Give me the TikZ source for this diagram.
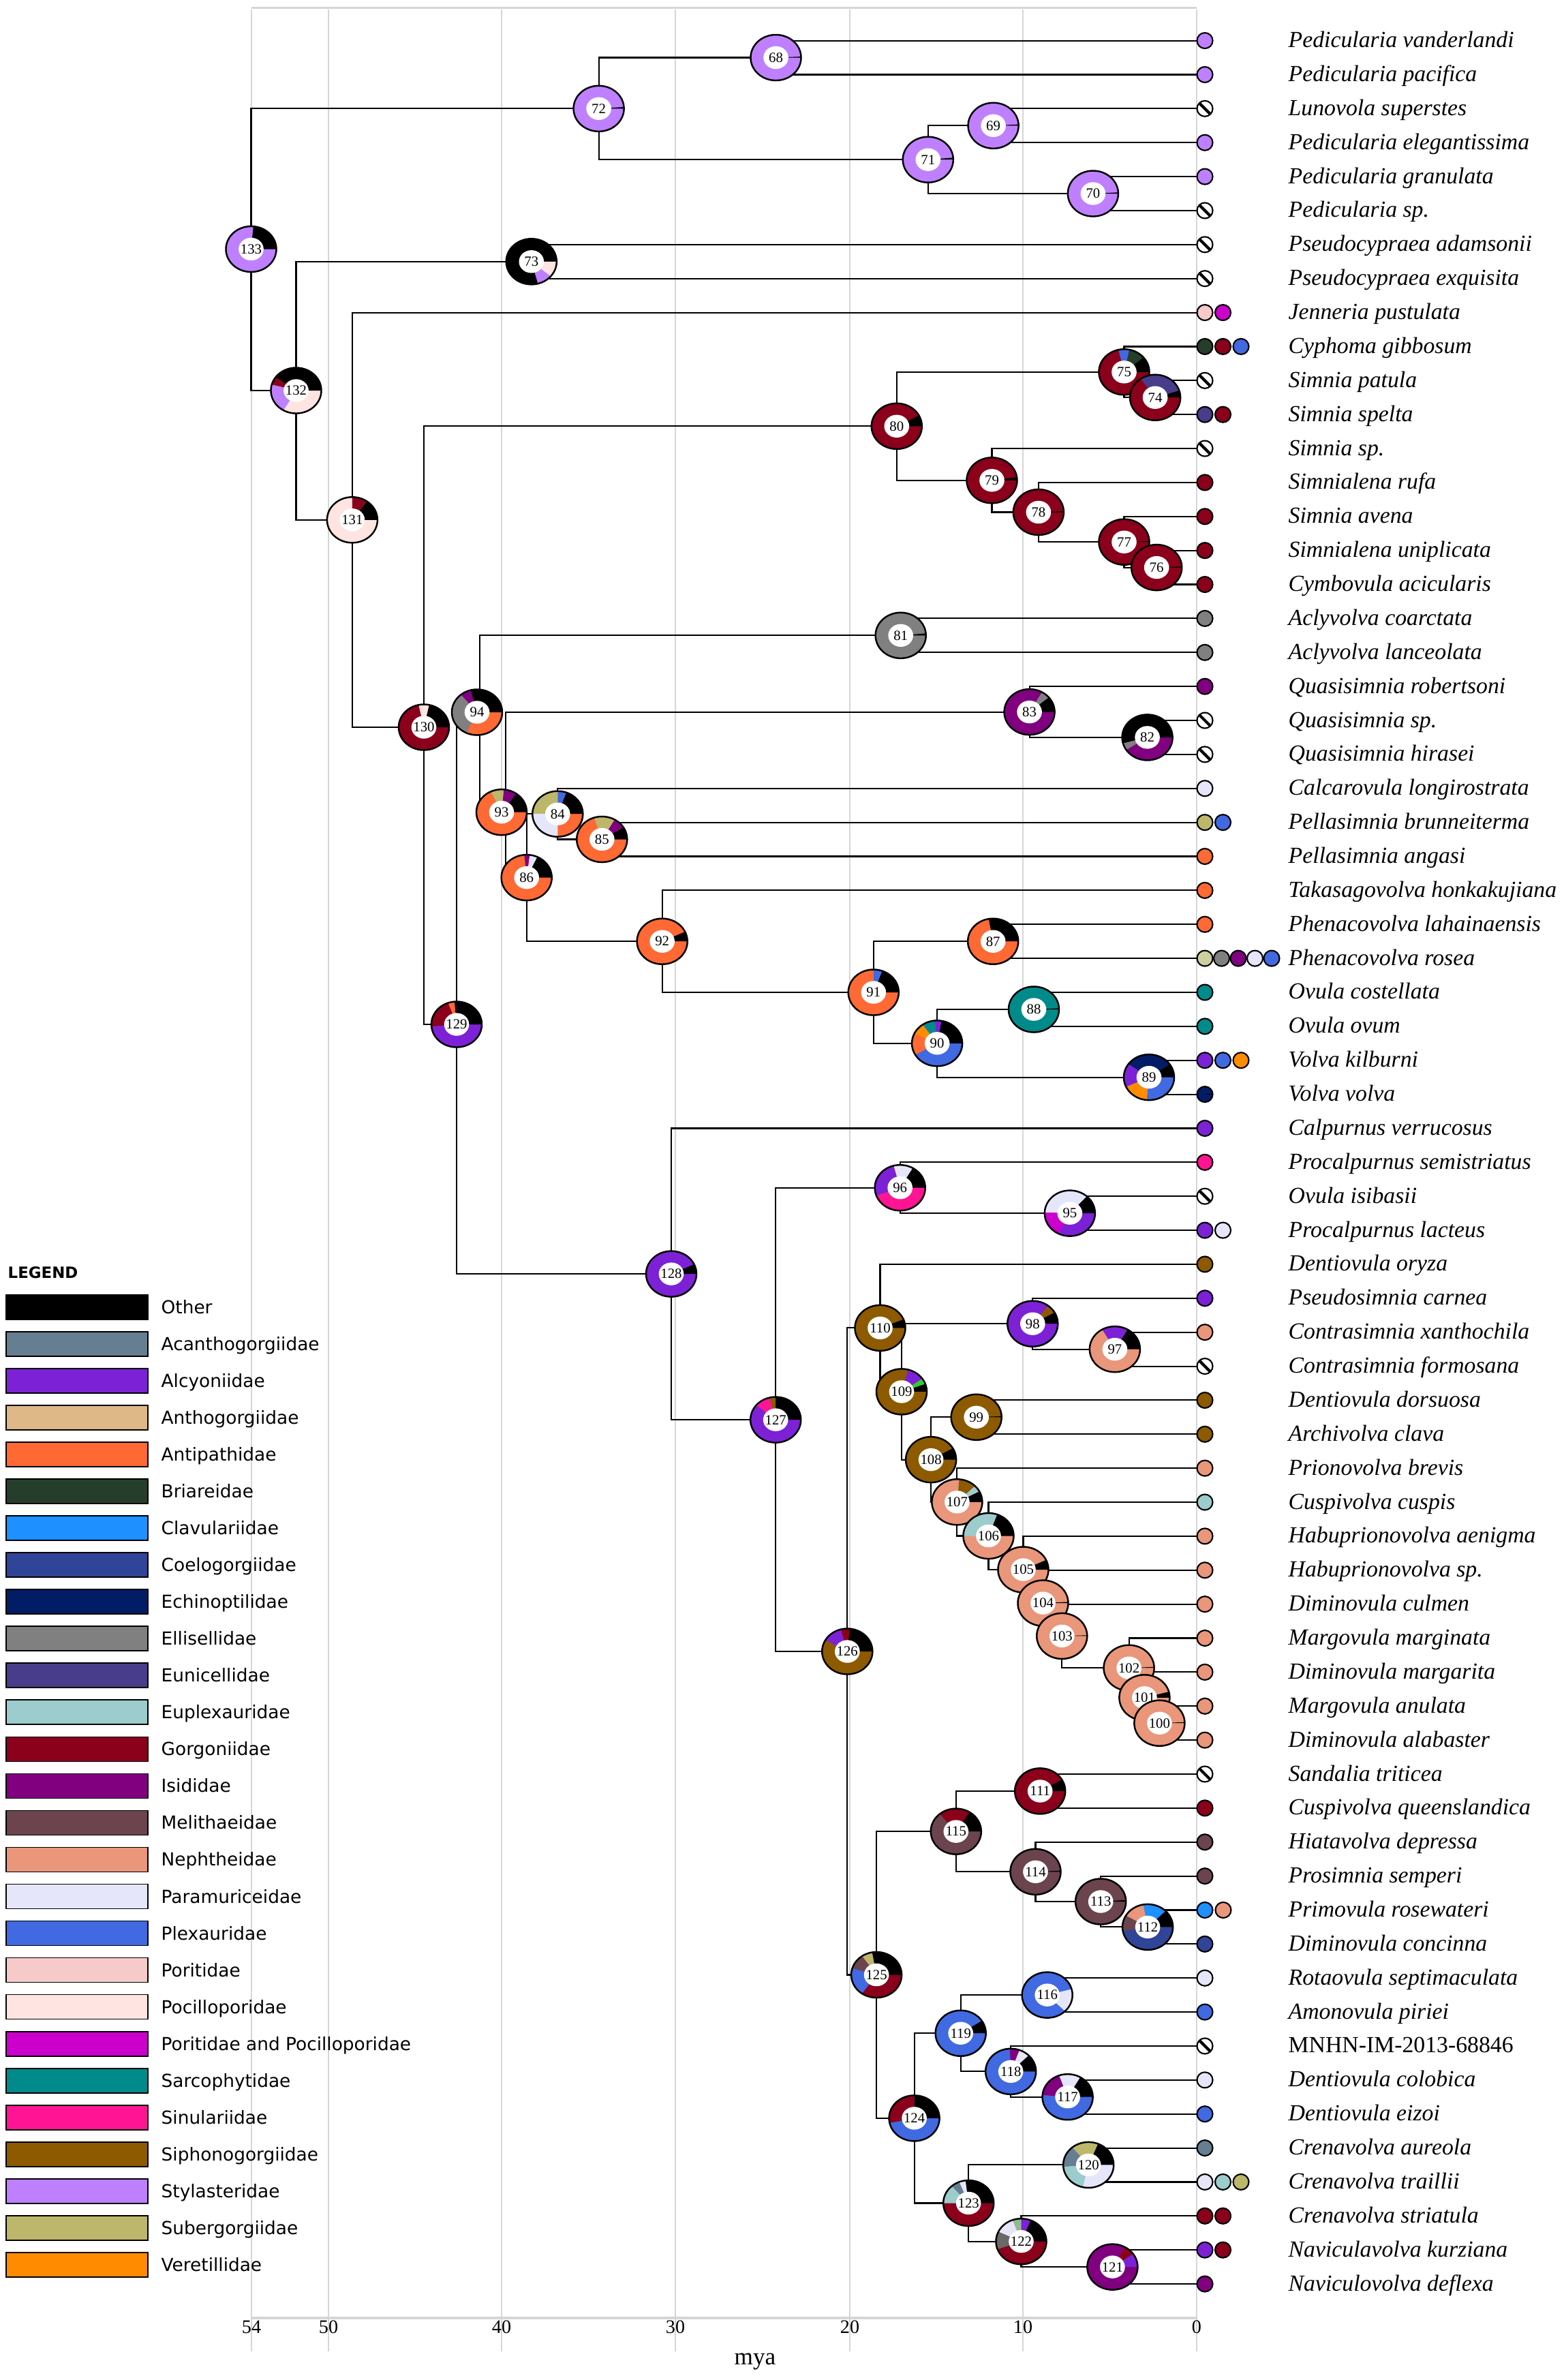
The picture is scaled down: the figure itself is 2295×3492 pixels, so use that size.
\documentclass[tikz,border=0pt]{standalone}
\usepackage{fontspec}
\setmainfont{Liberation Serif}
\newfontfamily\legfont{DejaVu Sans}
\usetikzlibrary{calc}

\definecolor{oth}{RGB}{0,0,0}
\definecolor{acan}{RGB}{102,126,146}
\definecolor{alcy}{RGB}{125,33,214}
\definecolor{anth}{RGB}{222,184,135}
\definecolor{anti}{RGB}{255,105,52}
\definecolor{bria}{RGB}{37,62,43}
\definecolor{clav}{RGB}{30,144,255}
\definecolor{coel}{RGB}{48,68,152}
\definecolor{echi}{RGB}{2,28,102}
\definecolor{elli}{RGB}{128,128,128}
\definecolor{euni}{RGB}{72,61,139}
\definecolor{eupl}{RGB}{156,204,204}
\definecolor{gorg}{RGB}{139,0,26}
\definecolor{isid}{RGB}{128,0,128}
\definecolor{meli}{RGB}{107,68,78}
\definecolor{neph}{RGB}{233,150,122}
\definecolor{para}{RGB}{230,230,250}
\definecolor{plex}{RGB}{65,105,225}
\definecolor{pori}{RGB}{247,202,202}
\definecolor{poci}{RGB}{255,228,225}
\definecolor{popo}{RGB}{204,0,204}
\definecolor{sarc}{RGB}{0,139,139}
\definecolor{sinu}{RGB}{255,20,147}
\definecolor{siph}{RGB}{141,90,0}
\definecolor{styl}{RGB}{191,128,255}
\definecolor{suber}{RGB}{189,183,107}
\definecolor{vere}{RGB}{255,140,0}
\definecolor{limeg}{RGB}{50,205,50}
\definecolor{dsgreen}{RGB}{143,188,143}
\definecolor{dgrey}{RGB}{105,105,105}
\definecolor{pkhaki}{RGB}{207,206,158}
\definecolor{gridc}{RGB}{214,214,214}

\newcommand\donut[3]{%
  \begin{scope}[shift={(n#1)}]
    \fill[#2] (0,0) ellipse[x radius=0.37cm, y radius=0.335cm];
    \gdef\dstart{0}%
    \foreach \cc/\ss in {#3}{%
      \pgfmathsetmacro\dend{\dstart+\ss}%
      \path[fill=\cc] (0,0) -- (\dstart:0.37cm and 0.335cm) arc[start angle=\dstart, end angle=\dend, x radius=0.37cm, y radius=0.335cm] -- cycle;
      \global\let\dstart\dend
    }%
    \fill[white] (0,0) ellipse[x radius=0.183cm, y radius=0.167cm];
    \draw[line width=0.7pt] (0,0) ellipse[x radius=0.37cm, y radius=0.335cm];
    \node[numlab] (d#1) at (0,0) {#1};
  \end{scope}}
\newcommand\tipc[3]{\filldraw[fill=#3, draw=black, line width=0.6pt] ($(t#1)+(#2,0)$) circle[radius=0.115cm];}
\newcommand\tiph[1]{\filldraw[fill=white, draw=black, line width=0.6pt] ($(t#1)+(12,0)$) circle[radius=0.115cm];
  \draw[line width=1.2pt] ($(t#1)+(12,0)+(135:0.105cm)$) -- ($(t#1)+(12,0)+(-45:0.105cm)$);}

\begin{document}
\begin{tikzpicture}[x=0.01cm, y=-0.01cm,
  branch/.style={line width=0.6pt, black},
  gridln/.style={line width=0.75pt, gridc},
  tiplab/.style={anchor=base west, inner sep=0pt, font=\fontsize{9.6}{11.5}\selectfont\itshape},
  tiplabup/.style={anchor=base west, inner sep=0pt, font=\fontsize{9.6}{11.5}\selectfont},
  numlab/.style={inner sep=0pt, font=\fontsize{5.9}{6}\selectfont},
  ticklab/.style={inner sep=0pt, font=\fontsize{8}{9}\selectfont},
  leglab/.style={anchor=base west, inner sep=0pt, font=\legfont\fontsize{7.5}{9}\selectfont},
  swatch/.style={draw=black, line width=0.5pt}]

\fill[white] (0,0) rectangle (2295,3492);
\useasboundingbox (0,0) rectangle (2295,3492);

% grid and axis
\draw[gridln] (369,11.5) -- (1756,11.5);
\foreach \v/\xx in {54/369, 50/482, 40/736, 30/991, 20/1247, 10/1501, 0/1756}{
  \draw[gridln] (\xx,14) -- (\xx,3450);
  \node[ticklab] (tk\v) at (\xx,3414) {\v};
}
\draw[gridc, line width=0.9pt] (369,3401) -- (1756,3401);
\node[inner sep=0pt, font=\fontsize{10}{12}\selectfont] (mya) at (1108,3465) {mya};

% tip coordinates
\foreach \i in {0,...,66}{ \coordinate (t\i) at (1756,{59.6+49.87*\i}); }

% internal node coordinates
\coordinate (n68) at (1138.5,84.5);
\coordinate (n69) at (1457.6,184.3);
\coordinate (n70) at (1603.9,284.0);
\coordinate (n71) at (1361.8,234.2);
\coordinate (n72) at (878.6,159.3);
\coordinate (n73) at (779.8,383.8);
\coordinate (n74) at (1695.1,583.2);
\coordinate (n75) at (1649.5,545.8);
\coordinate (n76) at (1697.2,832.6);
\coordinate (n77) at (1649.5,795.2);
\coordinate (n78) at (1523.9,751.5);
\coordinate (n79) at (1455.5,704.8);
\coordinate (n80) at (1315.8,625.3);
\coordinate (n81) at (1321.7,932.3);
\coordinate (n82) at (1683.6,1081.9);
\coordinate (n83) at (1510.6,1044.6);
\coordinate (n84) at (818.3,1194.2);
\coordinate (n85) at (883.3,1231.5);
\coordinate (n86) at (772.7,1287.6);
\coordinate (n87) at (1457.2,1381.2);
\coordinate (n88) at (1517,1481.0);
\coordinate (n89) at (1686,1580.6);
\coordinate (n90) at (1375.1,1530.8);
\coordinate (n91) at (1281.8,1456.0);
\coordinate (n92) at (971.7,1381.2);
\coordinate (n93) at (736,1191.7);
\coordinate (l93) at (741.7,1191.7);
\coordinate (n94) at (700,1045);
\coordinate (l94) at (704,1045);
\coordinate (n95) at (1569.9,1780.1);
\coordinate (n96) at (1320.7,1742.7);
\coordinate (n97) at (1635.9,1979.6);
\coordinate (n98) at (1515.3,1942.2);
\coordinate (n99) at (1432.7,2079.3);
\coordinate (n100) at (1701.4,2528.2);
\coordinate (n101) at (1679.4,2490.8);
\coordinate (n102) at (1656.6,2447.2);
\coordinate (n103) at (1558.3,2400.4);
\coordinate (n104) at (1530.5,2352.1);
\coordinate (n105) at (1501.5,2303.0);
\coordinate (n106) at (1450.5,2253.5);
\coordinate (n107) at (1404.4,2203.8);
\coordinate (n108) at (1366.1,2141.6);
\coordinate (n109) at (1323,2041.9);
\coordinate (n110) at (1291.5,1948.4);
\coordinate (n111) at (1526.2,2627.9);
\coordinate (n112) at (1684.1,2827.4);
\coordinate (n113) at (1615.2,2790.0);
\coordinate (n114) at (1519.5,2746.3);
\coordinate (n115) at (1402.8,2687.1);
\coordinate (n116) at (1536.7,2927.1);
\coordinate (n117) at (1566.6,3076.7);
\coordinate (n118) at (1483.2,3039.3);
\coordinate (n119) at (1409.7,2983.2);
\coordinate (n120) at (1597.2,3176.4);
\coordinate (n121) at (1632.4,3326.1);
\coordinate (n122) at (1498.5,3288.7);
\coordinate (n123) at (1421.2,3232.5);
\coordinate (n124) at (1341.6,3107.9);
\coordinate (n125) at (1286.1,2897.5);
\coordinate (n126) at (1243.3,2423.0);
\coordinate (n127) at (1138.2,2083.1);
\coordinate (n128) at (985,1869.1);
\coordinate (n129) at (670,1503);
\coordinate (n130) at (622,1067);
\coordinate (n131) at (516.9,762.8);
\coordinate (n132) at (434.5,573);
\coordinate (n133) at (368.5,365.5);

% branches
\draw[branch] (n133) |- (n72) (n133) |- (n132);
\draw[branch] (n72) |- (n68) (n72) |- (n71);
\draw[branch] (n68) |- (t0) (n68) |- (t1);
\draw[branch] (n71) |- (n69) (n71) |- (n70);
\draw[branch] (n69) |- (t2) (n69) |- (t3);
\draw[branch] (n70) |- (t4) (n70) |- (t5);
\draw[branch] (n132) |- (n73) (n132) |- (n131);
\draw[branch] (n73) |- (t6) (n73) |- (t7);
\draw[branch] (n131) |- (t8) (n131) |- (n130);
\draw[branch] (n130) |- (n80) (n130) |- (n129);
\draw[branch] (n80) |- (n75) (n80) |- (n79);
\draw[branch] (n75) |- (t9) (n75) |- (n74);
\draw[branch] (n74) |- (t10) (n74) |- (t11);
\draw[branch] (n79) |- (t12) (n79) |- (n78);
\draw[branch] (n78) |- (t13) (n78) |- (n77);
\draw[branch] (n77) |- (t14) (n77) |- (n76);
\draw[branch] (n76) |- (t15) (n76) |- (t16);
\draw[branch] (n129) |- (n94) (n129) |- (n128);
\draw[branch] (l94) |- (n81) (l94) |- (n93);
\draw[branch] (n81) |- (t17) (n81) |- (t18);
\draw[branch] (l93) |- (n83) (l93) |- (n86);
\draw[branch] (n83) |- (t19) (n83) |- (n82);
\draw[branch] (n82) |- (t20) (n82) |- (t21);
\draw[branch] (n86) |- (n84) (n86) |- (n92);
\draw[branch] (n84) |- (t22) (n84) |- (n85);
\draw[branch] (n85) |- (t23) (n85) |- (t24);
\draw[branch] (n92) |- (t25) (n92) |- (n91);
\draw[branch] (n91) |- (n87) (n91) |- (n90);
\draw[branch] (n87) |- (t26) (n87) |- (t27);
\draw[branch] (n90) |- (n88) (n90) |- (n89);
\draw[branch] (n88) |- (t28) (n88) |- (t29);
\draw[branch] (n89) |- (t30) (n89) |- (t31);
\draw[branch] (n128) |- (t32) (n128) |- (n127);
\draw[branch] (n127) |- (n96) (n127) |- (n126);
\draw[branch] (n96) |- (t33) (n96) |- (n95);
\draw[branch] (n95) |- (t34) (n95) |- (t35);
\draw[branch] (n126) |- (n110) (n126) |- (n125);
\draw[branch] (n110) |- (t36) (n110) |- (n109);
\draw[branch] (n109) |- (n98) (n109) |- (n108);
\draw[branch] (n98) |- (t37) (n98) |- (n97);
\draw[branch] (n97) |- (t38) (n97) |- (t39);
\draw[branch] (n108) |- (n99) (n108) |- (n107);
\draw[branch] (n99) |- (t40) (n99) |- (t41);
\draw[branch] (n107) |- (t42) (n107) |- (n106);
\draw[branch] (n106) |- (t43) (n106) |- (n105);
\draw[branch] (n105) |- (t44) (n105) |- (n104);
\draw[branch] (n104) |- (t45) (n104) |- (n103);
\draw[branch] (n103) |- (t46) (n103) |- (n102);
\draw[branch] (n102) |- (t47) (n102) |- (n101);
\draw[branch] (n101) |- (t48) (n101) |- (n100);
\draw[branch] (n100) |- (t49) (n100) |- (t50);
\draw[branch] (n125) |- (n115) (n125) |- (n124);
\draw[branch] (n115) |- (n111) (n115) |- (n114);
\draw[branch] (n111) |- (t51) (n111) |- (t52);
\draw[branch] (n114) |- (t53) (n114) |- (n113);
\draw[branch] (n113) |- (t54) (n113) |- (n112);
\draw[branch] (n112) |- (t55) (n112) |- (t56);
\draw[branch] (n124) |- (n119) (n124) |- (n123);
\draw[branch] (n119) |- (n116) (n119) |- (n118);
\draw[branch] (n116) |- (t57) (n116) |- (t58);
\draw[branch] (n118) |- (t59) (n118) |- (n117);
\draw[branch] (n117) |- (t60) (n117) |- (t61);
\draw[branch] (n123) |- (n120) (n123) |- (n122);
\draw[branch] (n120) |- (t62) (n120) |- (t63);
\draw[branch] (n122) |- (t64) (n122) |- (n121);
\draw[branch] (n121) |- (t65) (n121) |- (t66);

% donuts
\donut{133}{styl}{oth/85}
\donut{132}{poci}{oth/145,gorg/20,styl/75}
\donut{131}{poci}{oth/55,gorg/35}
\donut{130}{gorg}{oth/78,poci/24}
\donut{129}{alcy}{oth/95,anti/15,gorg/75}
\donut{128}{alcy}{oth/25}
\donut{127}{alcy}{oth/90,siph/15,sinu/35}
\donut{126}{siph}{oth/85,gorg/20,alcy/45}
\donut{125}{gorg}{oth/100,suber/25,meli/38,plex/72}
\donut{124}{plex}{oth/90,gorg/102}
\donut{123}{gorg}{oth/97,para/15,acan/20,eupl/48}
\donut{122}{gorg}{oth/68,alcy/22,dsgreen/20,para/45,dgrey/45}
\donut{121}{isid}{alcy/35,gorg/25}
\donut{120}{para}{oth/68,suber/62,acan/55,eupl/72}
\donut{119}{plex}{oth/33}
\donut{118}{plex}{oth/45,para/25,isid/22}
\donut{117}{plex}{oth/60,para/50,isid/65}
\donut{116}{plex}{para/15,none/300,para/45}
\donut{115}{meli}{oth/58,gorg/72}
\donut{114}{meli}{oth/3}
\donut{113}{meli}{oth/4}
\donut{112}{coel}{oth/45,clav/55,neph/50,meli/40}
\donut{111}{gorg}{oth/30}
\donut{110}{siph}{oth/22}
\donut{109}{siph}{oth/20,limeg/15,alcy/40}
\donut{108}{siph}{oth/30}
\donut{107}{neph}{oth/28,eupl/17,siph/40}
\donut{106}{neph}{oth/70,eupl/110}
\donut{105}{neph}{oth/25}
\donut{104}{neph}{oth/3}
\donut{103}{neph}{oth/2}
\donut{102}{neph}{oth/2.5}
\donut{101}{neph}{oth/15}
\donut{100}{neph}{oth/2.5}
\donut{99}{siph}{oth/2.5}
\donut{98}{alcy}{oth/30,siph/22}
\donut{97}{neph}{oth/60,alcy/60}
\donut{96}{sinu}{oth/60,para/45,alcy/95}
\donut{95}{alcy}{oth/48,para/130,popo/65}
\donut{94}{anti}{oth/105,isid/25,elli/115}
\donut{93}{anti}{oth/55,isid/30,suber/30}
\donut{92}{anti}{oth/25}
\donut{91}{anti}{oth/70,plex/20}
\donut{90}{plex}{oth/80,alcy/15,sarc/30,vere/30,anti/55}
\donut{89}{plex}{oth/35,echi/110,alcy/60,vere/60}
\donut{88}{sarc}{oth/3}
\donut{87}{anti}{oth/100}
\donut{86}{anti}{oth/65,para/18,isid/12}
\donut{85}{anti}{oth/32,isid/28,suber/48}
\donut{84}{anti}{oth/70,plex/20,suber/90,para/90}
\donut{83}{isid}{oth/40,elli/20}
\donut{82}{isid}{oth/195,elli/18}
\donut{81}{elli}{oth/5}
\donut{80}{gorg}{oth/28}
\donut{79}{gorg}{oth/8}
\donut{78}{gorg}{oth/2.5}
\donut{77}{gorg}{oth/2.5}
\donut{76}{gorg}{oth/2.5}
\donut{75}{gorg}{oth/40,bria/38,plex/25}
\donut{74}{gorg}{oth/18,euni/107}
\donut{73}{oth}{none/285,styl/35,poci/40}
\donut{72}{styl}{oth/4}
\donut{71}{styl}{oth/5}
\donut{70}{styl}{oth/3}
\donut{69}{styl}{oth/3}
\donut{68}{styl}{oth/2.5}

% tip state circles
\tipc{0}{12}{styl} \tipc{1}{12}{styl} \tiph{2} \tipc{3}{12}{styl} \tipc{4}{12}{styl}
\tiph{5} \tiph{6} \tiph{7}
\tipc{8}{12}{pori} \tipc{8}{38.5}{popo}
\tipc{9}{12}{bria} \tipc{9}{38.5}{gorg} \tipc{9}{65}{plex}
\tiph{10}
\tipc{11}{12}{euni} \tipc{11}{38.5}{gorg}
\tiph{12}
\tipc{13}{12}{gorg} \tipc{14}{12}{gorg} \tipc{15}{12}{gorg} \tipc{16}{12}{gorg}
\tipc{17}{12}{elli} \tipc{18}{12}{elli}
\tipc{19}{12}{isid} \tiph{20} \tiph{21}
\tipc{22}{12}{para}
\tipc{23}{12}{suber} \tipc{23}{38.5}{plex}
\tipc{24}{12}{anti} \tipc{25}{12}{anti} \tipc{26}{12}{anti}
\tipc{27}{12}{pkhaki} \tipc{27}{36.5}{elli} \tipc{27}{61}{isid} \tipc{27}{85.5}{para} \tipc{27}{110}{plex}
\tipc{28}{12}{sarc} \tipc{29}{12}{sarc}
\tipc{30}{12}{alcy} \tipc{30}{38.5}{plex} \tipc{30}{65}{vere}
\tipc{31}{12}{echi} \draw[line width=0.5pt] ($(t31)+(12,0)$) -- +(0.1cm,0);
\tipc{32}{12}{alcy} \tipc{33}{12}{sinu} \tiph{34}
\tipc{35}{12}{alcy} \tipc{35}{38.5}{para}
\tipc{36}{12}{siph} \tipc{37}{12}{alcy} \tipc{38}{12}{neph} \tiph{39}
\tipc{40}{12}{siph} \tipc{41}{12}{siph} \tipc{42}{12}{neph} \tipc{43}{12}{eupl}
\tipc{44}{12}{neph} \tipc{45}{12}{neph} \tipc{46}{12}{neph} \tipc{47}{12}{neph}
\tipc{48}{12}{neph} \tipc{49}{12}{neph} \tipc{50}{12}{neph}
\tiph{51} \tipc{52}{12}{gorg} \tipc{53}{12}{meli} \tipc{54}{12}{meli}
\tipc{55}{12}{clav} \tipc{55}{39}{neph}
\tipc{56}{12}{coel} \tipc{57}{12}{para} \tipc{58}{12}{plex} \tiph{59}
\tipc{60}{12}{para} \tipc{61}{12}{plex} \tipc{62}{12}{acan}
\tipc{63}{12}{para} \tipc{63}{38.5}{eupl} \tipc{63}{65}{suber}
\tipc{64}{12}{gorg} \tipc{64}{38.5}{gorg}
\tipc{65}{12}{alcy} \tipc{65}{38.5}{gorg}
\tipc{66}{12}{isid}

% tip labels
\foreach \i/\nm in {0/Pedicularia vanderlandi, 1/Pedicularia pacifica, 2/Lunovola superstes,
 3/Pedicularia elegantissima, 4/Pedicularia granulata, 5/Pedicularia sp., 6/Pseudocypraea adamsonii,
 7/Pseudocypraea exquisita, 8/Jenneria pustulata, 9/Cyphoma gibbosum, 10/Simnia patula,
 11/Simnia spelta, 12/Simnia sp., 13/Simnialena rufa, 14/Simnia avena, 15/Simnialena uniplicata,
 16/Cymbovula acicularis, 17/Aclyvolva coarctata, 18/Aclyvolva lanceolata, 19/Quasisimnia robertsoni,
 20/Quasisimnia sp., 21/Quasisimnia hirasei, 22/Calcarovula longirostrata, 23/Pellasimnia brunneiterma,
 24/Pellasimnia angasi, 25/Takasagovolva honkakujiana, 26/Phenacovolva lahainaensis,
 27/Phenacovolva rosea, 28/Ovula costellata, 29/Ovula ovum, 30/Volva kilburni, 31/Volva volva,
 32/Calpurnus verrucosus, 33/Procalpurnus semistriatus, 34/Ovula isibasii, 35/Procalpurnus lacteus,
 36/Dentiovula oryza, 37/Pseudosimnia carnea, 38/Contrasimnia xanthochila, 39/Contrasimnia formosana,
 40/Dentiovula dorsuosa, 41/Archivolva clava, 42/Prionovolva brevis, 43/Cuspivolva cuspis,
 44/Habuprionovolva aenigma, 45/Habuprionovolva sp., 46/Diminovula culmen, 47/Margovula marginata,
 48/Diminovula margarita, 49/Margovula anulata, 50/Diminovula alabaster, 51/Sandalia triticea,
 52/Cuspivolva queenslandica, 53/Hiatavolva depressa, 54/Prosimnia semperi, 55/Primovula rosewateri,
 56/Diminovula concinna, 57/Rotaovula septimaculata, 58/Amonovula piriei,
 60/Dentiovula colobica, 61/Dentiovula eizoi, 62/Crenavolva aureola, 63/Crenavolva traillii,
 64/Crenavolva striatula, 65/Naviculavolva kurziana, 66/Naviculovolva deflexa}{
  \node[tiplab] (lab\i) at ($(t\i)+(134,10)$) {\nm};
}
\node[tiplabup] (lab59) at ($(t59)+(134,10)$) {MNHN-IM-2013-68846};

% legend
\node[anchor=west, inner sep=0pt, font=\legfont\bfseries\fontsize{6.5}{8}\selectfont] (legtitle) at (11,1867) {LEGEND};
\foreach \k/\cl/\tx in {0/oth/Other, 1/acan/Acanthogorgiidae, 2/alcy/Alcyoniidae, 3/anth/Anthogorgiidae,
 4/anti/Antipathidae, 5/bria/Briareidae, 6/clav/Clavulariidae, 7/coel/Coelogorgiidae,
 8/echi/Echinoptilidae, 9/elli/Ellisellidae, 10/euni/Eunicellidae, 11/eupl/Euplexauridae,
 12/gorg/Gorgoniidae, 13/isid/Isididae, 14/meli/Melithaeidae, 15/neph/Nephtheidae,
 16/para/Paramuriceidae, 17/plex/Plexauridae, 18/pori/Poritidae, 19/poci/Pocilloporidae,
 20/popo/Poritidae and Pocilloporidae, 21/sarc/Sarcophytidae, 22/sinu/Sinulariidae,
 23/siph/Siphonogorgiidae, 24/styl/Stylasteridae, 25/suber/Subergorgiidae, 26/vere/Veretillidae}{
  \pgfmathsetmacro\yy{1918+54.03*\k}
  \filldraw[swatch, fill=\cl] (9,\yy-18) rectangle (217,\yy+18);
  \node[leglab] (leg\k) at (236,\yy+9.5) {\tx};
}
\end{tikzpicture}
\end{document}
